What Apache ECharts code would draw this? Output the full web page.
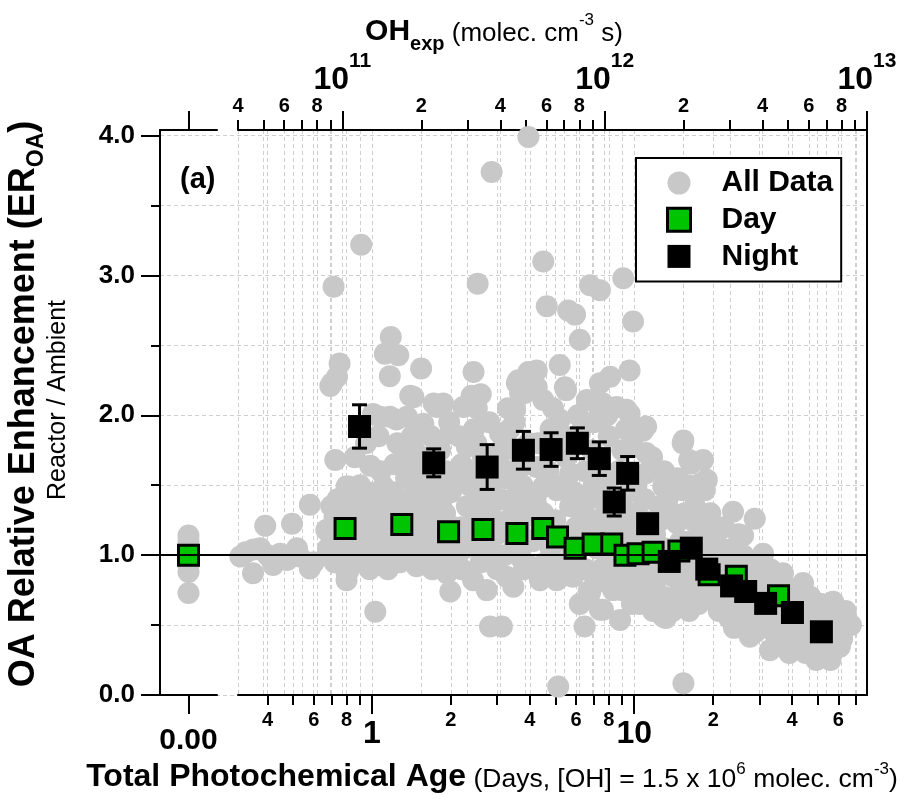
<!DOCTYPE html>
<html>
<head>
<meta charset="utf-8">
<script src="https://cdn.jsdelivr.net/npm/echarts@6/dist/echarts.min.js"></script>
<style>
  html, body { margin: 0; padding: 0; background: #fff; }
  #chart { width: 904px; height: 799px; }
</style>
</head>
<body>
<div id="chart"></div>
<script>
// ---- data (age in days at [OH] = 1.5e6, ER_OA = reactor / ambient) ----
const zeroAllER = [1.14, 1.1, 1.05, 1.0, 0.97, 0.93, 0.88, 0.73]
const zeroDayER = [1.0]

const allPoints = [
  // 0.3 - 0.65 d
  [0.315, 0.99], [0.33, 1.02], [0.354, 1.04], [0.352, 0.87], [0.375, 1.05], [0.392, 1.21], [0.40, 1.00],
  [0.42, 0.93], [0.435, 0.99], [0.447, 1.01], [0.475, 0.965], [0.496, 1.225], [0.518, 1.05], [0.53, 0.99],
  [0.58, 1.36], [0.58, 0.905], [0.60, 0.95],
  // 0.65 - 1 d
  [0.694, 2.21], [0.705, 2.23], [0.714, 2.92], [0.736, 2.275], [0.753, 2.37], [0.725, 1.68], [0.80, 1.49],
  [0.815, 1.49], [0.83, 1.41], [0.85, 1.39], [0.67, 1.18], [0.705, 1.19], [0.72, 1.27], [0.76, 1.31],
  [0.80, 1.10], [0.78, 1.20], [0.82, 1.00], [0.80, 0.88], [0.80, 0.82], [0.815, 0.89], [0.86, 1.15],
  [0.90, 1.25], [0.93, 1.25], [0.91, 3.22], [0.985, 1.64], [0.985, 1.01], [0.95, 1.10], [0.88, 1.05],
  [0.75, 1.08], [0.92, 0.95], [0.97, 1.35], [0.90, 1.50],
  [0.68, 1.05], [0.72, 0.95], [0.74, 1.40], [0.78, 1.00], [0.84, 1.30], [0.88, 1.35], [0.92, 1.15],
  [0.96, 1.45], [0.98, 0.90], [0.87, 0.95], [0.70, 1.35], [0.95, 1.80], [0.86, 1.70],
  // 1 - 2 d
  [1.01, 2.01], [1.06, 1.85], [1.075, 1.99], [1.107, 1.49], [1.12, 2.44], [1.14, 1.39], [1.17, 2.28],
  [1.17, 1.99], [1.18, 2.56], [1.26, 2.43], [1.28, 1.645], [1.24, 1.97], [1.36, 1.99], [1.40, 2.14],
  [1.44, 2.13], [1.44, 1.54], [1.48, 1.56], [1.54, 2.335], [1.57, 1.94], [1.57, 1.37], [1.72, 2.085],
  [1.77, 2.06], [1.87, 2.085], [1.87, 1.42], [1.99, 1.87], [1.03, 0.595], [1.28, 0.95], [1.48, 0.92],
  [1.93, 0.87], [1.99, 0.74],
  [1.05, 1.15], [1.10, 1.05], [1.15, 1.25], [1.20, 0.98], [1.25, 1.12], [1.30, 1.35], [1.35, 1.05],
  [1.40, 1.20], [1.45, 0.98], [1.50, 1.30], [1.55, 1.10], [1.60, 1.45], [1.65, 1.00], [1.70, 1.25],
  [1.75, 1.55], [1.80, 1.10], [1.85, 0.95], [1.90, 1.30], [1.95, 1.05], [1.10, 1.30], [1.20, 1.45],
  [1.35, 1.55], [1.60, 1.70], [1.45, 1.75], [1.25, 1.80], [1.70, 0.90], [1.15, 0.90],
  [1.02, 1.25], [1.08, 1.60], [1.12, 0.92], [1.22, 1.65], [1.30, 1.00], [1.32, 1.70], [1.38, 1.40],
  [1.42, 1.85], [1.52, 1.65], [1.58, 0.95], [1.62, 1.20], [1.68, 1.85], [1.78, 1.35], [1.82, 1.75],
  [1.88, 1.15], [1.92, 1.60], [1.97, 1.95], [1.65, 1.55],
  // 2 - 4 d
  [2.11, 1.51], [2.23, 2.06], [2.30, 1.775], [2.37, 2.07], [2.40, 2.14], [2.44, 2.31], [2.51, 2.05],
  [2.53, 2.94], [2.58, 1.39], [2.86, 3.74], [2.99, 1.585], [3.08, 1.87], [3.51, 2.04], [3.57, 2.23],
  [3.57, 1.54], [3.57, 1.37], [3.61, 2.25], [3.67, 2.16], [3.83, 2.16], [3.95, 2.31], [3.95, 3.99],
  [2.43, 0.82], [2.74, 0.75], [2.82, 0.49], [3.13, 0.49], [3.26, 0.845], [3.46, 0.774], [2.20, 0.90],
  [2.60, 0.95], [3.00, 0.90], [3.80, 0.90],
  [2.10, 1.00], [2.20, 1.20], [2.30, 1.35], [2.40, 1.10], [2.50, 1.25], [2.60, 1.50], [2.70, 1.05],
  [2.80, 1.30], [2.90, 1.70], [3.00, 1.15], [3.10, 1.40], [3.20, 1.00], [3.30, 1.25], [3.40, 1.60],
  [3.50, 1.10], [3.60, 1.45], [3.70, 0.98], [3.80, 1.30], [3.90, 1.65], [2.20, 1.65], [2.50, 1.80],
  [2.80, 1.95], [3.20, 1.80], [3.50, 1.95], [2.00, 1.45], [2.40, 1.60], [3.00, 1.55], [2.70, 1.45],
  [2.05, 1.20], [2.15, 1.85], [2.25, 1.05], [2.35, 1.50], [2.45, 1.90], [2.55, 1.05], [2.65, 1.70],
  [2.75, 1.20], [2.85, 1.55], [2.95, 1.00], [3.05, 1.70], [3.15, 1.20], [3.25, 1.55], [3.35, 1.90],
  [3.45, 1.35], [3.55, 1.75], [3.65, 1.20], [3.75, 1.50], [3.85, 1.10], [3.95, 1.80], [3.30, 2.05],
  [2.60, 2.15],
  // 4 - 10 d
  [4.25, 2.32], [4.25, 2.20], [4.50, 3.10], [4.50, 2.11], [4.64, 2.78], [5.20, 2.36], [5.44, 2.20],
  [5.50, 2.18], [5.60, 2.75], [5.95, 2.72], [6.20, 2.54], [6.60, 2.11], [6.78, 2.93], [7.20, 2.085],
  [7.40, 2.895], [7.40, 2.23], [7.60, 2.085], [8.10, 2.275], [8.56, 2.06], [9.08, 2.98], [9.35, 2.04],
  [9.60, 2.32], [9.60, 2.01], [9.90, 2.67],
  [4.25, 1.63], [4.50, 1.49], [5.20, 1.97], [5.06, 1.465], [5.70, 1.585], [5.70, 1.35], [6.20, 1.87],
  [6.60, 1.39], [9.90, 1.775], [4.80, 1.90], [5.50, 1.70], [6.50, 1.60], [7.00, 1.50], [7.50, 1.40],
  [8.00, 1.55], [8.50, 1.25], [9.00, 1.35], [9.50, 1.45], [4.50, 1.30], [5.00, 1.25], [6.00, 1.20],
  [7.00, 1.25], [8.00, 1.20], [9.00, 1.15], [10.0, 1.30], [8.00, 1.85], [7.00, 1.95], [9.00, 1.75],
  [4.10, 1.10], [4.20, 1.40], [4.30, 1.80], [4.60, 1.15], [4.70, 1.60], [4.90, 2.05], [5.10, 1.10],
  [5.30, 1.50], [5.40, 1.85], [5.80, 1.05], [5.90, 1.45], [6.10, 2.00], [6.30, 1.30], [6.80, 1.15],
  [6.90, 1.75], [7.20, 1.05], [7.30, 1.60], [7.80, 1.30], [7.90, 2.00], [8.30, 1.10], [8.70, 1.60],
  [9.20, 1.00], [9.30, 1.90], [9.70, 1.20],
  [4.37, 0.82], [4.00, 0.92], [5.06, 0.82], [5.84, 0.845], [6.78, 0.727], [6.70, 0.74], [7.60, 0.61],
  [7.40, 0.61], [8.83, 0.536], [6.47, 0.49], [9.90, 0.82], [5.13, 0.06], [4.60, 0.95], [5.50, 0.95],
  [6.50, 0.90], [7.50, 0.90], [8.50, 0.85], [9.50, 0.90], [4.80, 1.05], [6.00, 1.00], [8.00, 0.98],
  [9.00, 0.75], [8.30, 0.75], [7.10, 0.80], [5.30, 0.85], [6.20, 0.65], [9.80, 0.65],
  // 10 - 20 d
  [10.8, 1.89], [11.1, 1.92], [11.1, 1.73], [11.1, 1.585], [12.9, 1.49], [15.3, 1.80], [15.4, 1.82],
  [16.2, 1.68], [16.5, 1.656], [15.3, 1.465], [17.3, 1.44], [17.8, 1.51], [18.9, 1.54], [18.3, 1.68],
  [18.6, 1.465], [12.5, 1.35], [14.5, 1.23], [16.7, 1.25], [18.3, 1.20], [11.4, 0.727], [12.9, 0.56],
  [14.9, 0.63], [16.7, 0.70], [18.3, 0.774], [15.4, 0.084],
  [10.5, 1.10], [11.0, 0.90], [12.0, 1.15], [12.0, 0.80], [13.0, 1.05], [13.0, 0.70], [14.0, 1.30],
  [14.0, 0.85], [15.0, 1.10], [15.0, 0.75], [16.0, 0.95], [17.0, 1.35], [17.0, 0.80], [18.0, 1.10],
  [18.0, 0.90], [19.0, 1.00], [19.0, 0.70], [11.0, 1.40], [13.0, 1.60], [16.0, 1.50], [10.5, 0.65],
  [12.0, 0.65], [14.0, 0.60],
  [10.2, 1.50], [10.8, 1.25], [11.5, 1.05], [11.7, 1.70], [12.4, 0.95], [12.6, 1.25], [13.4, 1.40],
  [13.6, 0.90], [14.2, 1.05], [14.6, 1.55], [15.6, 1.30], [15.8, 0.85], [16.4, 1.10], [17.4, 1.00],
  [17.6, 0.65], [18.6, 0.80], [19.5, 1.30], [10.3, 0.80], [11.8, 0.60], [13.2, 0.55], [16.2, 0.60],
  // 20 - 30 d
  [19.4, 1.19], [20.5, 0.70], [22.5, 0.584], [23.8, 1.31], [26.0, 1.14], [28.8, 1.26], [27.6, 0.417],
  [20.0, 1.05], [21.0, 0.90], [21.0, 0.60], [22.0, 1.00], [22.0, 0.75], [23.0, 0.95], [23.0, 0.55],
  [24.0, 1.05], [24.0, 0.70], [25.0, 0.90], [25.0, 0.55], [26.0, 1.00], [26.0, 0.65], [27.0, 0.85],
  [27.0, 0.50], [28.0, 0.95], [28.0, 0.60], [29.0, 0.75], [29.0, 0.45], [30.0, 0.90], [30.0, 0.60],
  [22.0, 1.20], [25.0, 1.15],
  [20.5, 1.20], [21.5, 0.75], [22.5, 0.90], [23.5, 0.65], [24.5, 0.85], [25.5, 0.70], [26.5, 0.50],
  [27.5, 0.75], [28.5, 0.55], [29.5, 0.65], [24.0, 0.48], [21.5, 1.05],
  // 30 - 70 d
  [31.0, 1.01], [32.9, 0.32], [36.9, 0.87], [42.3, 0.37], [44.0, 0.80], [46.7, 0.61], [49.4, 0.25],
  [31.0, 0.80], [31.0, 0.50], [33.0, 0.90], [33.0, 0.60], [34.0, 0.45], [35.0, 0.80], [36.0, 0.55],
  [37.0, 0.40], [38.0, 0.70], [39.0, 0.50], [40.0, 0.75], [41.0, 0.45], [43.0, 0.65], [45.0, 0.50],
  [47.0, 0.70], [48.0, 0.40], [50.0, 0.60], [35.0, 0.35], [39.0, 0.30], [45.0, 0.30],
  [31.5, 0.65], [32.5, 0.75], [34.0, 0.60], [35.5, 0.65], [37.0, 0.55], [38.5, 0.45], [42.0, 0.55],
  [44.0, 0.45], [46.0, 0.40],
  [54.0, 0.584], [57.3, 0.667], [60.8, 0.345], [60.8, 0.39], [63.4, 0.49], [67.0, 0.50], [52.0, 0.50],
  [55.0, 0.40], [58.0, 0.50], [53.0, 0.30], [56.0, 0.25], [57.0, 0.60],
  [51.0, 0.42], [54.0, 0.35], [59.0, 0.42], [62.0, 0.40], [64.0, 0.60], [49.0, 0.50], [52.0, 0.65]
]

const dayAge = [0.79, 1.30, 1.96, 2.65, 3.57, 4.48, 5.1, 5.95, 6.97, 8.21, 9.22, 10.34, 11.8, 14.8, 19.3, 24.5, 35.5]
const dayER = [1.19, 1.22, 1.167, 1.184, 1.155, 1.19, 1.13, 1.05, 1.08, 1.08, 1.0, 1.01, 1.02, 1.03, 0.86, 0.85, 0.71]

const nightAge = [0.897, 1.72, 2.75, 3.78, 4.82, 6.07, 7.36, 8.39, 9.44, 11.25, 13.6, 16.5, 18.9, 23.5, 26.6, 31.7, 40.1, 51.7]
const nightER = [1.92, 1.66, 1.63, 1.75, 1.755, 1.80, 1.69, 1.38, 1.585, 1.225, 0.955, 1.05, 0.90, 0.78, 0.74, 0.655, 0.59, 0.452]
const nightErr = [0.155, 0.10, 0.16, 0.135, 0.12, 0.11, 0.12, 0.10, 0.12, 0.05, 0.04, 0.04, 0.04, 0.04, 0.04, 0.04, 0.04, 0.04]

// axis ticks
const ageTicksMajor = [1, 10]
const ageTicksMinor = [0.4, 0.5, 0.6, 0.7, 0.8, 0.9, 2, 3, 4, 5, 6, 7, 8, 9, 20, 30, 40, 50, 60, 70]
const ageLabelValues = [0.4, 0.6, 0.8, 1, 2, 4, 6, 8, 10, 20, 40, 60]
const ageLabelText = ['4', '6', '8', '1', '2', '4', '6', '8', '10', '2', '4', '6']

const ohTicksMajor = [1e11, 1e12, 1e13]
const ohTicksMinor = [4e10, 5e10, 6e10, 7e10, 8e10, 9e10, 2e11, 3e11, 4e11, 5e11, 6e11, 7e11, 8e11, 9e11,
  2e12, 3e12, 4e12, 5e12, 6e12, 7e12, 8e12, 9e12]
const ohLabelValues = [4e10, 6e10, 8e10, 1e11, 2e11, 4e11, 6e11, 8e11, 1e12, 2e12, 4e12, 6e12, 8e12, 1e13]
const ohLabelText = ['4', '6', '8', '10^11', '2', '4', '6', '8', '10^12', '2', '4', '6', '8', '10^13']

const erTicksMajor = [0, 1, 2, 3, 4]
const erTicksMinor = [0.5, 1.5, 2.5, 3.5]
const erRef = 1.0

const OH_CONC = 1.5e6
const SEC_PER_DAY = 86400
const OH_MIN = 4e10
const OH_MAX = 1e13
const ER_MAX = 4.04

// ---- helpers ----
const lg = Math.log10
const ageMin = OH_MIN / (OH_CONC * SEC_PER_DAY)
const ageMax = OH_MAX / (OH_CONC * SEC_PER_DAY)
const FONT = "'Liberation Sans', Arial, Helvetica, sans-serif"
const GRID_LINE = { show: true, lineStyle: { color: '#cfcfcf', type: [4, 3], width: 1 } }
const AXIS_LINE = { show: true, onZero: false, lineStyle: { color: '#000', width: 2 } }

function labelFor(values, texts, v) {
  const i = values.findIndex((t) => Math.abs(lg(t) - v) < 1e-6)
  return i < 0 ? '' : texts[i]
}

function hiddenAxis(gridIndex, min, max) {
  return { type: 'value', gridIndex, min, max, show: false, splitLine: { show: false } }
}

const chart = echarts.init(document.getElementById('chart'))

const option = {
  animation: false,
  backgroundColor: '#fff',
  textStyle: { fontFamily: FONT },
  grid: [
    { left: 160, right: 37, top: 130, height: 565, outerBoundsMode: 'none' },  // frame + y axis
    { left: 160, width: 57, top: 130, height: 565, outerBoundsMode: 'none' },  // age = 0 section
    { left: 238, right: 37, top: 130, height: 565, outerBoundsMode: 'none' }   // log age section
  ],
  xAxis: [
    hiddenAxis(0, 0, 1),
    {
      type: 'value', gridIndex: 1, position: 'bottom', min: -1, max: 1,
      axisLine: AXIS_LINE,
      axisTick: { customValues: [0], length: 19, lineStyle: { width: 2, color: '#000' } },
      axisLabel: {
        customValues: [0], margin: 31, color: '#000', fontFamily: FONT, fontWeight: 'bold', fontSize: 30,
        formatter: (v) => v.toFixed(2)
      },
      splitLine: { show: false }
    },
    {
      type: 'value', gridIndex: 1, position: 'top', min: -1, max: 1,
      axisLine: AXIS_LINE,
      axisTick: { customValues: [0], length: 19, lineStyle: { width: 2, color: '#000' } },
      axisLabel: { show: false },
      splitLine: { show: false }
    },
    {
      type: 'value', gridIndex: 2, position: 'bottom', min: lg(ageMin), max: lg(ageMax),
      axisLine: AXIS_LINE,
      axisTick: { customValues: ageTicksMajor.map(lg), length: 19, lineStyle: { width: 2, color: '#000' } },
      axisLabel: {
        customValues: ageLabelValues.map(lg), margin: 15, color: '#000', fontFamily: FONT,
        formatter: (v) => {
          const t = labelFor(ageLabelValues, ageLabelText, v)
          const major = ageTicksMajor.some((m) => Math.abs(lg(m) - v) < 1e-6)
          return major ? '{big|' + t + '}' : '{small|' + t + '}'
        },
        rich: {
          small: { fontSize: 20, fontWeight: 'bold', fontFamily: FONT, verticalAlign: 'top' },
          big: { fontSize: 32, fontWeight: 'bold', fontFamily: FONT, verticalAlign: 'top', padding: [8, 0, 0, 0] }
        }
      },
      splitLine: GRID_LINE
    },
    {
      type: 'value', gridIndex: 2, position: 'bottom', min: lg(ageMin), max: lg(ageMax),
      axisLine: { show: false, onZero: false },
      axisTick: { customValues: ageTicksMinor.map(lg), length: 10, lineStyle: { width: 2, color: '#000' } },
      axisLabel: { show: false },
      splitLine: GRID_LINE
    },
    {
      type: 'value', gridIndex: 2, position: 'top', min: lg(OH_MIN), max: lg(OH_MAX),
      axisLine: AXIS_LINE,
      axisTick: { customValues: ohTicksMajor.map(lg), length: 19, lineStyle: { width: 2, color: '#000' } },
      axisLabel: {
        customValues: ohLabelValues.map(lg), margin: 14, color: '#000', fontFamily: FONT,
        formatter: (v) => {
          const t = labelFor(ohLabelValues, ohLabelText, v)
          if (t.indexOf('^') > 0) {
            const [base, exp] = t.split('^')
            return '{big|' + base + '}{sup|' + exp + '}'
          }
          return '{small|' + t + '}'
        },
        rich: {
          small: { fontSize: 20, fontWeight: 'bold', fontFamily: FONT, verticalAlign: 'bottom' },
          big: { fontSize: 32, fontWeight: 'bold', fontFamily: FONT, verticalAlign: 'bottom', padding: [0, 0, 20, 0] },
          sup: { fontSize: 21, fontWeight: 'bold', fontFamily: FONT, verticalAlign: 'bottom', padding: [0, 0, 44, 0] }
        }
      },
      splitLine: GRID_LINE
    },
    {
      type: 'value', gridIndex: 2, position: 'top', min: lg(OH_MIN), max: lg(OH_MAX),
      axisLine: { show: false, onZero: false },
      axisTick: { customValues: ohTicksMinor.map(lg), length: 10, lineStyle: { width: 2, color: '#000' } },
      axisLabel: { show: false },
      splitLine: GRID_LINE
    }
  ],
  yAxis: [
    {
      type: 'value', gridIndex: 0, position: 'left', min: 0, max: ER_MAX,
      axisLine: AXIS_LINE,
      axisTick: { customValues: erTicksMajor, length: 19, lineStyle: { width: 2, color: '#000' } },
      axisLabel: {
        customValues: erTicksMajor, margin: 25, color: '#000', fontFamily: FONT, fontWeight: 'bold', fontSize: 26,
        formatter: (v) => v.toFixed(1)
      },
      splitLine: GRID_LINE
    },
    {
      type: 'value', gridIndex: 0, position: 'left', min: 0, max: ER_MAX,
      axisLine: { show: false, onZero: false },
      axisTick: { customValues: erTicksMinor, length: 9, lineStyle: { width: 2, color: '#000' } },
      axisLabel: { show: false },
      splitLine: GRID_LINE
    },
    {
      type: 'value', gridIndex: 0, position: 'right', min: 0, max: ER_MAX,
      axisLine: AXIS_LINE, axisTick: { show: false }, axisLabel: { show: false }, splitLine: { show: false }
    },
    hiddenAxis(1, 0, ER_MAX),
    hiddenAxis(2, 0, ER_MAX)
  ],
  legend: {
    orient: 'vertical',
    left: 636,
    top: 158,
    padding: [10, 8, 10, 30],
    itemGap: 6.7,
    itemWidth: 23,
    itemHeight: 23,
    backgroundColor: '#fff',
    borderColor: '#000',
    borderWidth: 2,
    borderRadius: 0,
    selectedMode: false,
    textStyle: { fontSize: 30, fontWeight: 'bold', fontFamily: FONT, color: '#000', lineHeight: 30, padding: [0, 0, 0, 26] },
    data: [
      { name: 'All Data', icon: 'circle' },
      { name: 'Day', icon: 'rect', itemStyle: { color: '#00c400', borderColor: '#000', borderWidth: 3 } },
      { name: 'Night', icon: 'rect' }
    ]
  },
  graphic: [
    {
      type: 'text', x: 180, y: 180, z: 100,
      style: { text: '(a)', fontFamily: FONT, fontWeight: 'bold', fontSize: 29, fill: '#000', verticalAlign: 'middle' }
    },
    {
      type: 'text', x: 494, y: 33, z: 100,
      style: {
        text: '{b|OH}{bs|exp}{r| (molec. cm}{rs|-3}{r| s)}',
        align: 'center', verticalAlign: 'middle', fill: '#000',
        rich: {
          b: { fontFamily: FONT, fontWeight: 'bold', fontSize: 30, verticalAlign: 'bottom', padding: [0, 0, 7, 0] },
          bs: { fontFamily: FONT, fontWeight: 'bold', fontSize: 20, verticalAlign: 'bottom' },
          r: { fontFamily: FONT, fontSize: 26, verticalAlign: 'bottom', padding: [0, 0, 7, 0] },
          rs: { fontFamily: FONT, fontSize: 17, verticalAlign: 'bottom', padding: [0, 0, 25, 0] }
        }
      }
    },
    {
      type: 'text', x: 492, y: 777, z: 100,
      style: {
        text: '{b|Total Photochemical Age}{r| (Days, [OH] = 1.5 x 10}{rs|6}{r| molec. cm}{rs|-3}{r|)}',
        align: 'center', verticalAlign: 'middle', fill: '#000',
        rich: {
          b: { fontFamily: FONT, fontWeight: 'bold', fontSize: 32, verticalAlign: 'bottom' },
          r: { fontFamily: FONT, fontSize: 26.5, verticalAlign: 'bottom' },
          rs: { fontFamily: FONT, fontSize: 17, verticalAlign: 'bottom', padding: [0, 0, 16, 0] }
        }
      }
    },
    {
      type: 'text', x: 27, y: 404, rotation: Math.PI / 2, z: 100,
      style: {
        text: '{b|OA Relative Enhancement (ER}{bs|OA}{b|)}',
        align: 'center', verticalAlign: 'middle', fill: '#000',
        rich: {
          b: { fontFamily: FONT, fontWeight: 'bold', fontSize: 36, verticalAlign: 'bottom', padding: [0, 0, 6, 0] },
          bs: { fontFamily: FONT, fontWeight: 'bold', fontSize: 23, verticalAlign: 'bottom' }
        }
      }
    },
    {
      type: 'text', x: 58, y: 400, rotation: Math.PI / 2, z: 100,
      style: { text: 'Reactor / Ambient', fontFamily: FONT, fontSize: 25, fill: '#000', align: 'center', verticalAlign: 'middle' }
    }
  ],
  series: [
    {
      name: 'ref', type: 'scatter', xAxisIndex: 0, yAxisIndex: 0, data: [], z: 3, silent: true,
      markLine: {
        silent: true, symbol: ['none', 'none'], label: { show: false },
        lineStyle: { color: '#000', width: 2, type: 'solid' },
        data: [{ yAxis: erRef }]
      }
    },
    {
      name: 'All Data', type: 'scatter', xAxisIndex: 1, yAxisIndex: 3, z: 2,
      symbol: 'circle', symbolSize: 22, itemStyle: { color: '#c8c8c8', opacity: 1 },
      data: zeroAllER.map((v) => [0, v])
    },
    {
      name: 'All Data', type: 'scatter', xAxisIndex: 3, yAxisIndex: 4, z: 2,
      symbol: 'circle', symbolSize: 22, itemStyle: { color: '#c8c8c8', opacity: 1 },
      data: allPoints.map(([age, er]) => [lg(age), er])
    },
    {
      name: 'Day', type: 'scatter', xAxisIndex: 1, yAxisIndex: 3, z: 4,
      symbol: 'rect', symbolSize: 20, itemStyle: { color: '#00c400', borderColor: '#000', borderWidth: 3, opacity: 1 },
      data: zeroDayER.map((v) => [0, v])
    },
    {
      name: 'Day', type: 'scatter', xAxisIndex: 3, yAxisIndex: 4, z: 4,
      symbol: 'rect', symbolSize: 20, itemStyle: { color: '#00c400', borderColor: '#000', borderWidth: 3, opacity: 1 },
      data: dayAge.map((age, i) => [lg(age), dayER[i]])
    },
    {
      name: 'Night error', type: 'custom', xAxisIndex: 3, yAxisIndex: 4, z: 5, silent: true,
      encode: { x: 0, y: 1 },
      data: nightAge.map((age, i) => [lg(age), nightER[i], nightErr[i]]),
      renderItem: (params, api) => {
        const x = api.value(0)
        const y = api.value(1)
        const e = api.value(2)
        const hi = api.coord([x, y + e])
        const lo = api.coord([x, y - e])
        const cap = 7.5
        const style = { stroke: '#000', lineWidth: 3 }
        return {
          type: 'group',
          children: [
            { type: 'line', shape: { x1: hi[0], y1: hi[1], x2: lo[0], y2: lo[1] }, style },
            { type: 'line', shape: { x1: hi[0] - cap, y1: hi[1], x2: hi[0] + cap, y2: hi[1] }, style },
            { type: 'line', shape: { x1: lo[0] - cap, y1: lo[1], x2: lo[0] + cap, y2: lo[1] }, style }
          ]
        }
      }
    },
    {
      name: 'Night', type: 'scatter', xAxisIndex: 3, yAxisIndex: 4, z: 5,
      symbol: 'rect', symbolSize: 23, itemStyle: { color: '#000', opacity: 1 },
      data: nightAge.map((age, i) => [lg(age), nightER[i]])
    }
  ]
}

chart.setOption(option)
</script>
</body>
</html>
